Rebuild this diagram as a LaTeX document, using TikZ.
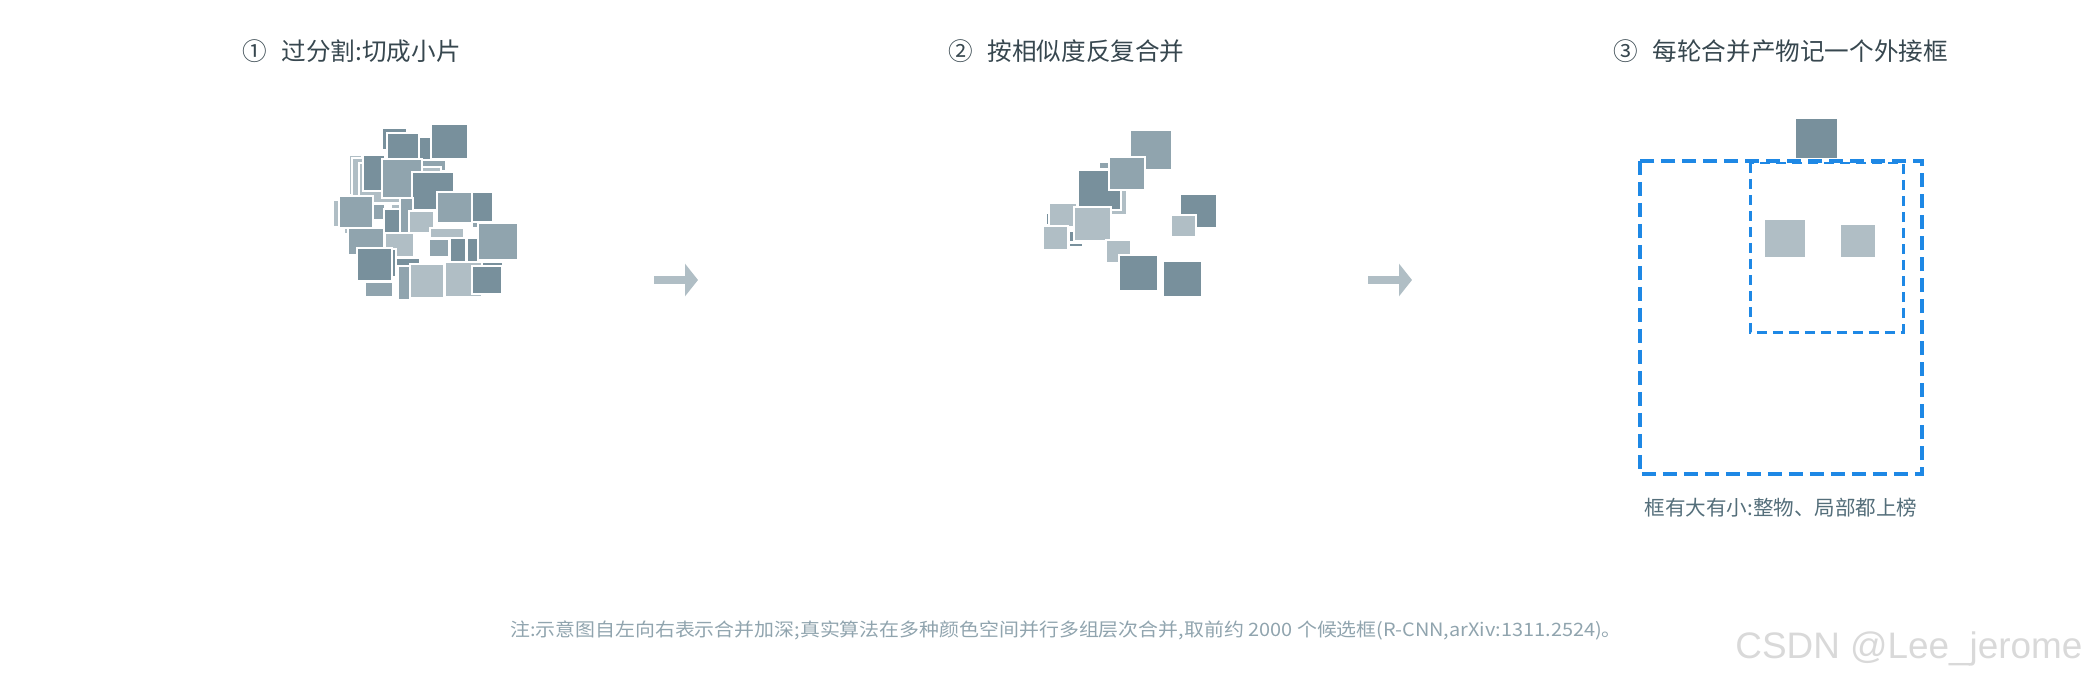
\documentclass[tikz,border=0pt]{standalone}
\usepackage{fontspec}
\setmainfont{Noto Sans CJK SC}
\newfontfamily\wmfont{Liberation Sans}
\usetikzlibrary{positioning,arrows.meta}
\definecolor{sqD}{HTML}{78909C}
\definecolor{sqM}{HTML}{90A4AE}
\definecolor{sqL}{HTML}{B0BEC5}
\definecolor{ttlc}{HTML}{37474F}
\definecolor{capc}{HTML}{546E7A}
\definecolor{ntc}{HTML}{90A4AE}
\definecolor{bbx}{HTML}{1E88E5}
\tikzset{
  sq/.style={draw=white, line width=0.026cm},
  ttl/.style={anchor=base west, inner sep=0pt, text=ttlc, font=\fontsize{14}{17}\selectfont},
  bx/.style={draw=bbx, line width=0.08cm, dash pattern=on 0.28cm off 0.14cm},
  bxs/.style={draw=bbx, line width=0.06cm, dash pattern=on 0.2cm off 0.12cm},
  ar/.style={draw=sqL, line width=0.16cm, -{Triangle[length=0.26cm,width=0.64cm]}}
}

\begin{document}
\begin{tikzpicture}[x=0.02cm, y=-0.02cm]
	\useasboundingbox (0,0) rectangle (2093,679);

	% titles
	\node[ttl] (t1) at (242,61) {①\hspace{0.6em}过分割:切成小片};
	\node[ttl] (t2) at (948,61) {②\hspace{0.6em}按相似度反复合并};
	\node[ttl] (t3) at (1613,61) {③\hspace{0.6em}每轮合并产物记一个外接框};

	% step 1: many small regions
	\foreach \c/\a/\b/\x/\y in {
		sqL/349/155/362/195, sqL/352/158/365/196, sqL/333/200/339/227, sqL/344/228/348/234,
		sqL/359/163/400/203, sqD/382/128/407/150, sqD/419/137/431/160, sqD/387/133/419/159,
		sqD/431/124/468/159, sqD/363/155/385/191, sqM/422/160/446/171, sqL/422/167/441/175,
		sqM/382/159/422/198, sqD/412/172/454/210, sqM/339/196/373/228, sqM/373/204/385/220,
		sqL/391/204/400/209, sqM/400/198/413/238, sqD/384/209/400/233, sqL/409/211/434/233,
		sqL/430/228/464/238, sqM/472/207/487/228, sqD/472/192/493/222, sqM/437/192/472/223,
		sqM/348/228/384/255, sqL/385/233/414/257, sqM/429/239/449/257, sqD/450/238/466/266,
		sqD/467/238/478/273, sqM/478/223/518/260, sqD/467/262/503/272, sqM/365/282/393/297,
		sqD/392/249/396/277, sqD/357/248/392/281, sqD/396/258/420/267, sqM/398/266/435/300,
		sqL/410/264/444/298, sqL/445/262/482/297, sqD/472/266/502/294}
		\filldraw[sq, fill=\c] (\a,\b) rectangle (\x,\y);

	\coordinate (a1s) at (654,280);
	\coordinate (a1e) at (698,280);
	\draw[ar] (a1s) -- (a1e);

	% step 2: fewer, merged regions
	\foreach \c/\a/\b/\x/\y in {
		sqM/1130/130/1172/170, sqM/1099/162/1109/169, sqL/1100/190/1127/215, sqD/1078/170/1121/210,
		sqM/1109/157/1145/190, sqD/1046/213/1049/225, sqL/1049/203/1077/227, sqD/1069/231/1074/242,
		sqD/1069/243/1083/247, sqL/1074/207/1111/241, sqL/1043/226/1068/250, sqL/1106/240/1131/263,
		sqD/1119/255/1158/291, sqD/1163/261/1202/297, sqD/1180/194/1217/228, sqL/1171/215/1196/237}
		\filldraw[sq, fill=\c] (\a,\b) rectangle (\x,\y);

	\coordinate (a2s) at (1368,280);
	\coordinate (a2e) at (1412,280);
	\draw[ar] (a2s) -- (a2e);

	% step 3: bounding boxes
	\filldraw[sq, fill=sqD] (1795,118) rectangle (1838,159);
	\filldraw[sq, fill=sqL] (1764,219) rectangle (1806,258);
	\filldraw[sq, fill=sqL] (1840,224) rectangle (1876,258);
	\draw[bxs] (1750,163) rectangle (1903,332);
	\draw[bx] (1640,161) rectangle (1922,474);

	\node[anchor=base, inner sep=0pt, text=capc, font=\fontsize{11.7}{14}\selectfont] (cap) at (1781,515) {框有大有小:整物、局部都上榜};

	\node[anchor=base, inner sep=0pt, text=ntc, font=\fontsize{10.5}{12}\selectfont\addfontfeatures{FakeStretch=1.08}] (note) at (1066,636) {注:示意图自左向右表示合并加深;真实算法在多种颜色空间并行多组层次合并,取前约 2000 个候选框(R-CNN,arXiv:1311.2524)。};

	\node[anchor=base west, inner sep=0pt, text=black!15, font=\wmfont\fontsize{21}{24}\selectfont] (wm) at (1735,658) {CSDN @Lee\_jerome};
\end{tikzpicture}
\end{document}
